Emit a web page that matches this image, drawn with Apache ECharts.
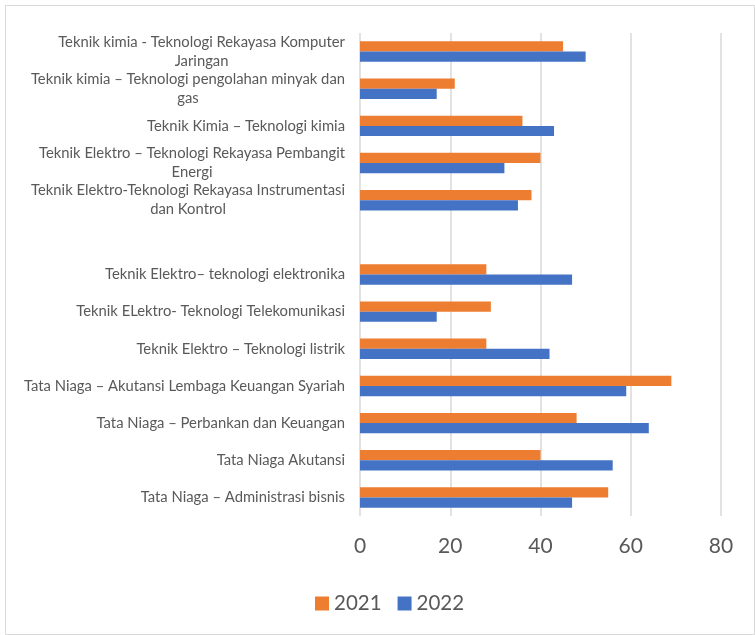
<!DOCTYPE html>
<html>
<head>
<meta charset="utf-8">
<script src="https://cdn.jsdelivr.net/npm/echarts@6/dist/echarts.min.js"></script>
<style>
    html, body { margin: 0; padding: 0; background: #fff; }
    #chart { width: 755px; height: 635px; }
</style>
</head>
<body>
<div id="chart"></div>
<script>
// program studi, dari atas ke bawah (baris kosong = jarak di grafik)
const categories = [
    'Teknik kimia - Teknologi Rekayasa Komputer\nJaringan',
    'Teknik kimia – Teknologi pengolahan minyak dan\ngas',
    'Teknik Kimia – Teknologi kimia',
    'Teknik Elektro – Teknologi Rekayasa Pembangit\nEnergi',
    'Teknik Elektro-Teknologi Rekayasa Instrumentasi\ndan Kontrol',
    '',
    'Teknik Elektro– teknologi elektronika',
    'Teknik ELektro- Teknologi Telekomunikasi',
    'Teknik Elektro – Teknologi listrik',
    'Tata Niaga – Akutansi Lembaga Keuangan Syariah',
    'Tata Niaga – Perbankan dan Keuangan',
    'Tata Niaga Akutansi',
    'Tata Niaga – Administrasi bisnis'
]
const data2021 = [45, 21, 36, 40, 38, null, 28, 29, 28, 69, 48, 40, 55]
const data2022 = [50, 17, 43, 32, 35, null, 47, 17, 42, 59, 64, 56, 47]
const xTicks = [0, 20, 40, 60, 80]

const fontFamily = 'Lato, "Open Sans", sans-serif'
const textColor = '#595959'

const option = {
    animation: false,
    backgroundColor: '#fff',
    graphic: [{
        type: 'rect',
        left: 3,
        top: 3,
        shape: {width: 749, height: 629},
        style: {fill: 'none', stroke: '#d9d9d9', lineWidth: 1}
    }],
    grid: {
        left: 360,
        right: 34,
        top: 33,
        bottom: 119,
        containLabel: false
    },
    legend: {
        left: 310,
        top: 588,
        itemWidth: 14,
        itemHeight: 14,
        itemGap: 16,
        icon: 'rect',
        data: ['2021', '2022'],
        textStyle: {color: textColor, fontSize: 20.5, fontFamily: fontFamily}
    },
    xAxis: {
        type: 'value',
        min: xTicks[0],
        max: xTicks[xTicks.length - 1],
        interval: xTicks[1] - xTicks[0],
        axisLine: {show: false},
        axisTick: {show: false},
        axisLabel: {color: textColor, fontSize: 21, fontFamily: fontFamily, margin: 20},
        splitLine: {show: true, lineStyle: {color: '#d9d9d9', width: 1.5}}
    },
    yAxis: {
        type: 'category',
        inverse: true,
        data: categories,
        axisLine: {show: false},
        axisTick: {show: false},
        axisLabel: {
            margin: 15,
            formatter: (value) => value.split('\n').map(l => '{c|' + l + '}').join('\n'),
            rich: {
                c: {
                    align: 'center',
                    color: textColor,
                    fontSize: 14.8,
                    lineHeight: 19,
                    fontFamily: fontFamily
                }
            }
        }
    },
    series: [
        {
            name: '2021',
            type: 'bar',
            data: data2021,
            barGap: '0%',
            barCategoryGap: '45%',
            itemStyle: {color: '#ed7d31'}
        },
        {
            name: '2022',
            type: 'bar',
            data: data2022,
            barGap: '0%',
            barCategoryGap: '45%',
            itemStyle: {color: '#4472c4'}
        }
    ]
}

const myChart = echarts.init(document.getElementById('chart'))
myChart.setOption(option)
</script>
</body>
</html>
